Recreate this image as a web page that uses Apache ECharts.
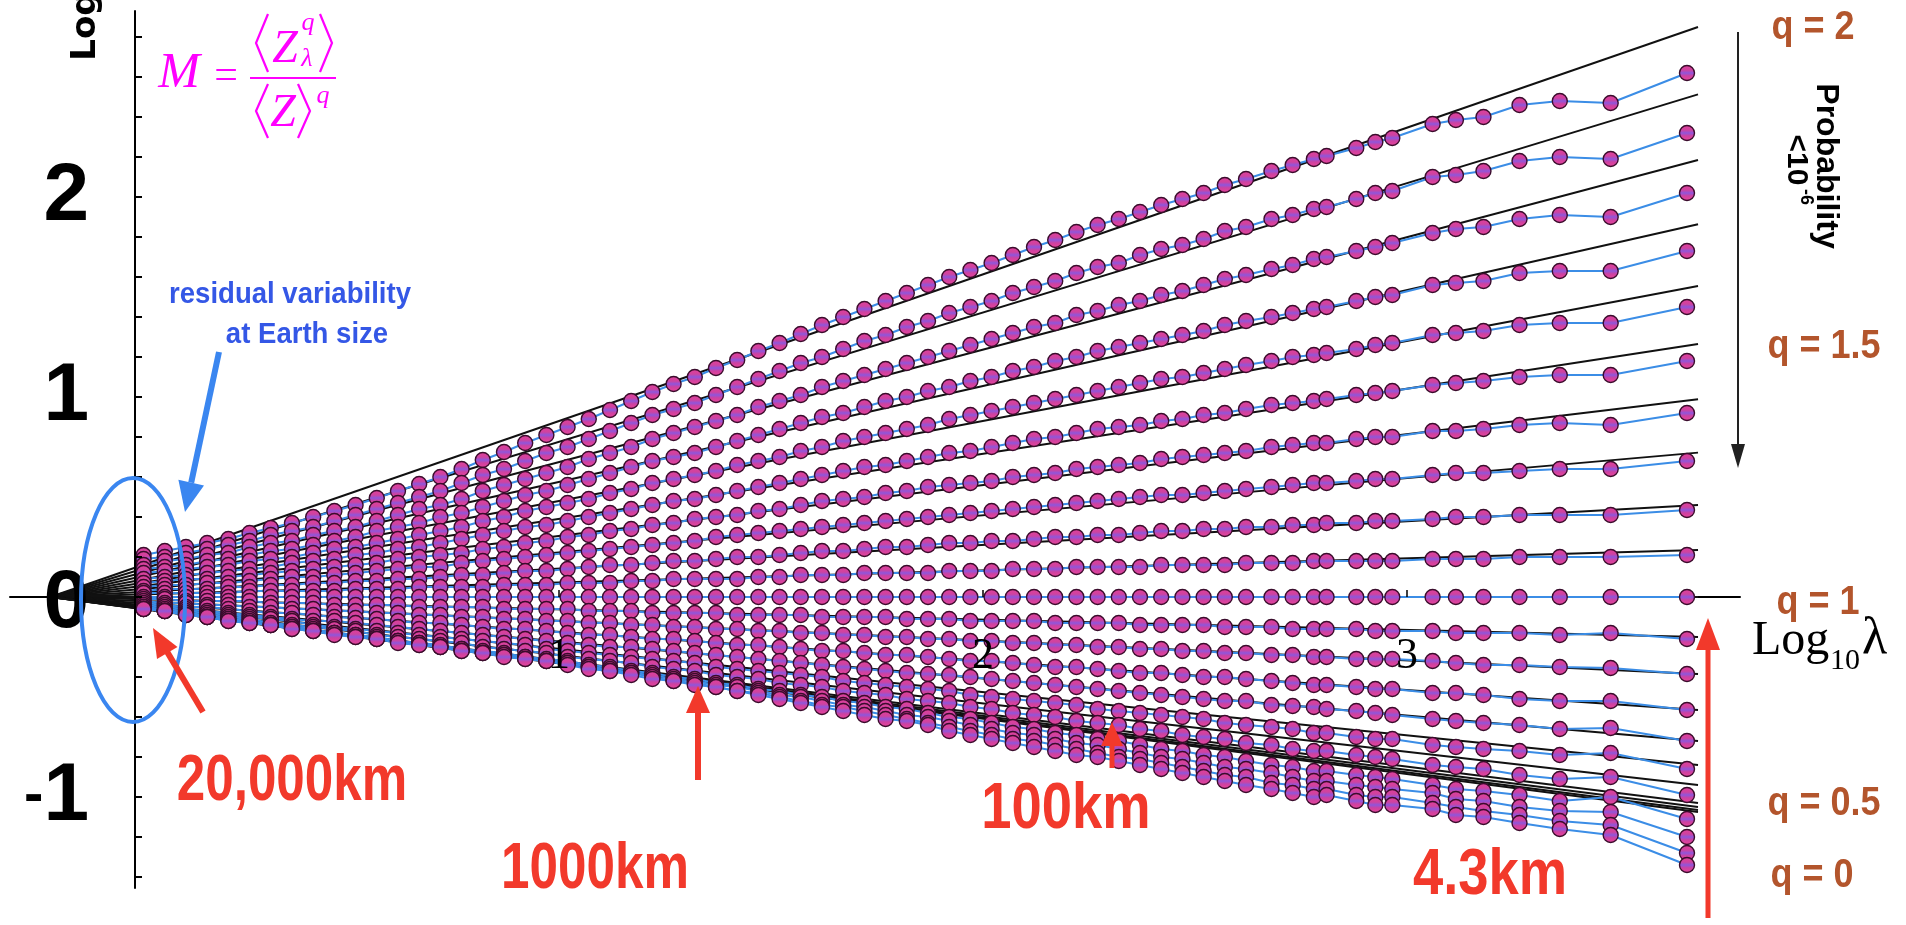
<!DOCTYPE html>
<html>
<head>
<meta charset="utf-8">
<script src="https://cdn.jsdelivr.net/npm/echarts@6/dist/echarts.min.js"></script>
<style>
html,body{margin:0;padding:0;background:#fff;}
#main{width:1906px;height:925px;}
</style>
</head>
<body>
<div id="main"></div>
<script>
// log10(lambda) positions of the points
const xs = [0.02,0.07,0.12,0.17,0.22,0.27,0.32,0.37,0.42,0.47,0.52,0.57,0.62,0.67,0.72,0.77,0.82,0.87,0.92,0.97,1.02,1.07,1.12,1.17,1.22,1.27,1.32,1.37,1.42,1.47,1.52,1.57,1.62,1.67,1.72,1.77,1.82,1.87,1.92,1.97,2.02,2.07,2.12,2.17,2.22,2.27,2.32,2.37,2.42,2.47,2.52,2.57,2.62,2.68,2.73,2.78,2.81,2.88,2.925,2.965,3.06,3.115,3.18,3.265,3.36,3.48,3.66];

// log10 M for each q
const m20 = [0.21,0.23,0.25,0.27,0.29,0.32,0.345,0.37,0.40,0.43,0.46,0.495,0.53,0.565,0.60,0.64,0.685,0.725,0.77,0.81,0.85,0.89,0.935,0.98,1.025,1.065,1.10,1.145,1.185,1.23,1.27,1.315,1.36,1.40,1.44,1.48,1.52,1.56,1.60,1.635,1.67,1.71,1.75,1.785,1.825,1.86,1.89,1.925,1.96,1.99,2.02,2.06,2.09,2.13,2.16,2.19,2.205,2.245,2.275,2.295,2.365,2.385,2.40,2.46,2.48,2.47,2.62];
const m19 = [0.19,0.20,0.22,0.24,0.26,0.28,0.31,0.33,0.35,0.38,0.41,0.44,0.47,0.50,0.53,0.57,0.61,0.64,0.68,0.72,0.75,0.79,0.83,0.87,0.91,0.94,0.97,1.01,1.05,1.09,1.13,1.17,1.20,1.24,1.28,1.31,1.35,1.38,1.42,1.45,1.48,1.52,1.55,1.58,1.62,1.65,1.67,1.71,1.74,1.76,1.79,1.83,1.85,1.89,1.91,1.94,1.95,1.99,2.02,2.03,2.10,2.11,2.13,2.18,2.20,2.19,2.32];
const m18 = [0.16,0.18,0.19,0.21,0.22,0.25,0.27,0.28,0.31,0.33,0.35,0.38,0.41,0.44,0.46,0.49,0.53,0.56,0.59,0.62,0.65,0.69,0.72,0.75,0.79,0.82,0.85,0.88,0.91,0.95,0.98,1.01,1.05,1.08,1.11,1.14,1.17,1.20,1.23,1.26,1.29,1.32,1.35,1.37,1.41,1.43,1.46,1.48,1.51,1.53,1.56,1.59,1.61,1.64,1.66,1.69,1.70,1.73,1.75,1.77,1.82,1.84,1.85,1.89,1.91,1.90,2.02];
const m17 = [0.14,0.15,0.16,0.18,0.19,0.21,0.23,0.24,0.26,0.28,0.30,0.33,0.35,0.37,0.40,0.42,0.45,0.48,0.51,0.53,0.56,0.59,0.62,0.65,0.68,0.70,0.72,0.75,0.78,0.81,0.84,0.87,0.90,0.92,0.95,0.98,1.00,1.03,1.05,1.08,1.10,1.13,1.15,1.18,1.20,1.23,1.25,1.27,1.29,1.31,1.33,1.36,1.38,1.40,1.42,1.44,1.45,1.48,1.50,1.51,1.56,1.57,1.58,1.62,1.63,1.63,1.73];
const m16 = [0.12,0.13,0.14,0.15,0.16,0.18,0.19,0.20,0.22,0.24,0.25,0.27,0.29,0.31,0.33,0.35,0.38,0.40,0.43,0.45,0.47,0.49,0.52,0.54,0.57,0.59,0.61,0.63,0.66,0.68,0.70,0.73,0.75,0.78,0.80,0.82,0.84,0.86,0.89,0.91,0.93,0.95,0.97,0.99,1.01,1.03,1.05,1.07,1.09,1.10,1.12,1.14,1.16,1.18,1.20,1.21,1.22,1.24,1.26,1.27,1.31,1.32,1.33,1.36,1.37,1.37,1.45];
const m15 = [0.09,0.10,0.11,0.12,0.13,0.14,0.15,0.17,0.18,0.19,0.21,0.22,0.24,0.25,0.27,0.29,0.31,0.33,0.35,0.36,0.38,0.40,0.42,0.44,0.46,0.48,0.49,0.51,0.53,0.55,0.57,0.59,0.61,0.63,0.65,0.66,0.68,0.70,0.72,0.73,0.75,0.77,0.79,0.80,0.82,0.84,0.85,0.86,0.88,0.89,0.91,0.92,0.94,0.96,0.97,0.98,0.99,1.01,1.02,1.03,1.06,1.07,1.08,1.10,1.11,1.11,1.18];
const m14 = [0.07,0.08,0.09,0.09,0.10,0.11,0.12,0.13,0.14,0.15,0.16,0.17,0.19,0.20,0.21,0.22,0.24,0.25,0.27,0.28,0.30,0.31,0.33,0.34,0.36,0.37,0.39,0.40,0.41,0.43,0.44,0.46,0.48,0.49,0.50,0.52,0.53,0.55,0.56,0.57,0.58,0.60,0.61,0.62,0.64,0.65,0.66,0.67,0.69,0.70,0.71,0.72,0.73,0.75,0.76,0.77,0.77,0.79,0.80,0.80,0.83,0.83,0.84,0.86,0.87,0.86,0.92];
const m13 = [0.05,0.06,0.06,0.07,0.07,0.08,0.09,0.10,0.10,0.11,0.12,0.13,0.14,0.15,0.15,0.17,0.18,0.19,0.20,0.21,0.22,0.23,0.24,0.25,0.26,0.27,0.28,0.30,0.31,0.32,0.33,0.34,0.35,0.36,0.37,0.38,0.39,0.40,0.41,0.42,0.43,0.44,0.45,0.46,0.47,0.48,0.49,0.50,0.51,0.51,0.52,0.53,0.54,0.55,0.56,0.57,0.57,0.58,0.59,0.59,0.61,0.62,0.62,0.63,0.64,0.64,0.68];
const m12 = [0.03,0.04,0.04,0.04,0.05,0.05,0.06,0.06,0.07,0.07,0.08,0.08,0.09,0.09,0.10,0.11,0.11,0.12,0.13,0.13,0.14,0.15,0.16,0.16,0.17,0.18,0.18,0.19,0.20,0.20,0.21,0.22,0.23,0.23,0.24,0.25,0.25,0.26,0.27,0.27,0.28,0.28,0.29,0.30,0.30,0.31,0.31,0.32,0.33,0.33,0.34,0.34,0.35,0.35,0.36,0.36,0.37,0.37,0.38,0.38,0.39,0.40,0.40,0.41,0.41,0.41,0.435];
const m11 = [0.02,0.02,0.02,0.02,0.02,0.03,0.03,0.03,0.03,0.03,0.04,0.04,0.04,0.05,0.05,0.05,0.05,0.06,0.06,0.06,0.07,0.07,0.07,0.08,0.08,0.09,0.09,0.09,0.09,0.10,0.10,0.11,0.11,0.11,0.12,0.12,0.12,0.12,0.13,0.13,0.13,0.14,0.14,0.14,0.15,0.15,0.15,0.15,0.16,0.16,0.16,0.16,0.17,0.17,0.17,0.18,0.18,0.18,0.18,0.18,0.19,0.19,0.19,0.20,0.20,0.20,0.21];
const m10 = [0,0,0,0,0,0,0,0,0,0,0,0,0,0,0,0,0,0,0,0,0,0,0,0,0,0,0,0,0,0,0,0,0,0,0,0,0,0,0,0,0,0,0,0,0,0,0,0,0,0,0,0,0,0,0,0,0,0,0,0,0,0,0,0,0,0,0];
const m09 = [-0.01,-0.01,-0.02,-0.02,-0.02,-0.02,-0.03,-0.03,-0.03,-0.04,-0.04,-0.04,-0.04,-0.05,-0.05,-0.05,-0.05,-0.06,-0.06,-0.06,-0.06,-0.07,-0.07,-0.07,-0.08,-0.08,-0.08,-0.08,-0.09,-0.09,-0.09,-0.09,-0.10,-0.10,-0.10,-0.10,-0.11,-0.11,-0.11,-0.12,-0.12,-0.12,-0.12,-0.13,-0.13,-0.13,-0.13,-0.14,-0.14,-0.14,-0.14,-0.15,-0.15,-0.15,-0.16,-0.16,-0.16,-0.16,-0.17,-0.17,-0.17,-0.18,-0.18,-0.18,-0.19,-0.18,-0.21];
const m08 = [-0.02,-0.03,-0.03,-0.04,-0.04,-0.05,-0.05,-0.06,-0.06,-0.07,-0.07,-0.08,-0.08,-0.09,-0.09,-0.10,-0.10,-0.11,-0.11,-0.12,-0.12,-0.13,-0.13,-0.14,-0.14,-0.15,-0.15,-0.16,-0.16,-0.17,-0.17,-0.18,-0.18,-0.19,-0.19,-0.20,-0.20,-0.21,-0.21,-0.22,-0.22,-0.23,-0.23,-0.24,-0.24,-0.25,-0.25,-0.26,-0.26,-0.27,-0.27,-0.28,-0.28,-0.29,-0.29,-0.30,-0.30,-0.31,-0.31,-0.31,-0.32,-0.33,-0.34,-0.34,-0.35,-0.355,-0.385];
const m07 = [-0.03,-0.04,-0.05,-0.05,-0.06,-0.07,-0.08,-0.08,-0.09,-0.10,-0.105,-0.11,-0.12,-0.13,-0.13,-0.14,-0.15,-0.16,-0.16,-0.17,-0.18,-0.19,-0.19,-0.20,-0.21,-0.21,-0.22,-0.23,-0.24,-0.24,-0.25,-0.26,-0.27,-0.27,-0.28,-0.29,-0.29,-0.30,-0.31,-0.32,-0.32,-0.33,-0.34,-0.35,-0.35,-0.36,-0.37,-0.38,-0.38,-0.39,-0.40,-0.40,-0.41,-0.42,-0.43,-0.44,-0.44,-0.45,-0.46,-0.46,-0.48,-0.48,-0.49,-0.51,-0.52,-0.52,-0.565];
const m06 = [-0.04,-0.05,-0.06,-0.07,-0.08,-0.09,-0.10,-0.11,-0.12,-0.12,-0.13,-0.14,-0.15,-0.16,-0.17,-0.18,-0.19,-0.20,-0.21,-0.22,-0.23,-0.24,-0.25,-0.25,-0.26,-0.27,-0.28,-0.29,-0.30,-0.31,-0.32,-0.33,-0.34,-0.35,-0.36,-0.37,-0.38,-0.385,-0.39,-0.40,-0.41,-0.42,-0.43,-0.44,-0.45,-0.46,-0.47,-0.48,-0.49,-0.50,-0.51,-0.52,-0.52,-0.54,-0.545,-0.55,-0.56,-0.57,-0.58,-0.59,-0.61,-0.62,-0.63,-0.64,-0.66,-0.655,-0.72];
const m05 = [-0.05,-0.06,-0.07,-0.08,-0.09,-0.10,-0.11,-0.12,-0.14,-0.15,-0.16,-0.17,-0.18,-0.19,-0.20,-0.21,-0.22,-0.23,-0.24,-0.26,-0.27,-0.28,-0.29,-0.30,-0.31,-0.32,-0.33,-0.35,-0.36,-0.37,-0.38,-0.39,-0.40,-0.42,-0.43,-0.44,-0.45,-0.46,-0.47,-0.49,-0.50,-0.51,-0.52,-0.53,-0.54,-0.56,-0.57,-0.58,-0.59,-0.60,-0.61,-0.63,-0.64,-0.65,-0.66,-0.68,-0.68,-0.70,-0.71,-0.71,-0.74,-0.75,-0.76,-0.77,-0.79,-0.78,-0.86];
const m04 = [-0.05,-0.07,-0.08,-0.09,-0.10,-0.11,-0.13,-0.14,-0.15,-0.16,-0.17,-0.19,-0.20,-0.21,-0.22,-0.23,-0.25,-0.26,-0.27,-0.28,-0.30,-0.31,-0.32,-0.33,-0.35,-0.36,-0.37,-0.39,-0.40,-0.41,-0.43,-0.44,-0.45,-0.47,-0.48,-0.49,-0.51,-0.52,-0.53,-0.55,-0.56,-0.58,-0.59,-0.60,-0.62,-0.63,-0.64,-0.66,-0.67,-0.69,-0.70,-0.71,-0.73,-0.74,-0.76,-0.77,-0.77,-0.79,-0.80,-0.81,-0.84,-0.85,-0.86,-0.89,-0.91,-0.90,-0.99];
const m03 = [-0.06,-0.07,-0.08,-0.10,-0.11,-0.12,-0.14,-0.15,-0.16,-0.18,-0.19,-0.20,-0.22,-0.23,-0.24,-0.26,-0.27,-0.28,-0.30,-0.31,-0.32,-0.34,-0.35,-0.37,-0.38,-0.40,-0.41,-0.43,-0.44,-0.46,-0.47,-0.49,-0.50,-0.52,-0.53,-0.55,-0.56,-0.58,-0.60,-0.61,-0.63,-0.65,-0.66,-0.68,-0.69,-0.71,-0.72,-0.74,-0.76,-0.77,-0.79,-0.80,-0.82,-0.84,-0.85,-0.87,-0.87,-0.89,-0.90,-0.91,-0.94,-0.96,-0.97,-0.99,-1.02,-1.00,-1.11];
const m02 = [-0.06,-0.07,-0.09,-0.10,-0.11,-0.13,-0.14,-0.15,-0.17,-0.18,-0.19,-0.21,-0.22,-0.23,-0.25,-0.26,-0.28,-0.29,-0.30,-0.32,-0.33,-0.35,-0.36,-0.38,-0.39,-0.41,-0.42,-0.44,-0.45,-0.47,-0.49,-0.50,-0.52,-0.54,-0.55,-0.57,-0.59,-0.60,-0.62,-0.64,-0.66,-0.68,-0.69,-0.71,-0.73,-0.74,-0.76,-0.78,-0.80,-0.81,-0.83,-0.85,-0.86,-0.88,-0.90,-0.92,-0.92,-0.94,-0.95,-0.96,-0.98,-1.01,-1.02,-1.05,-1.07,-1.075,-1.20];
const m01 = [-0.06,-0.07,-0.09,-0.10,-0.12,-0.13,-0.14,-0.16,-0.17,-0.18,-0.20,-0.21,-0.22,-0.24,-0.25,-0.27,-0.28,-0.29,-0.31,-0.32,-0.33,-0.35,-0.37,-0.38,-0.40,-0.42,-0.43,-0.45,-0.47,-0.48,-0.50,-0.52,-0.54,-0.55,-0.57,-0.59,-0.61,-0.63,-0.65,-0.67,-0.69,-0.71,-0.72,-0.74,-0.76,-0.78,-0.80,-0.81,-0.83,-0.85,-0.87,-0.89,-0.90,-0.93,-0.94,-0.96,-0.96,-0.99,-1.00,-1.00,-1.03,-1.05,-1.07,-1.09,-1.12,-1.14,-1.28];
const m00 = [-0.06,-0.07,-0.09,-0.10,-0.12,-0.13,-0.14,-0.16,-0.17,-0.19,-0.20,-0.21,-0.23,-0.24,-0.25,-0.27,-0.28,-0.30,-0.31,-0.32,-0.34,-0.36,-0.37,-0.39,-0.41,-0.42,-0.44,-0.45,-0.47,-0.49,-0.51,-0.53,-0.55,-0.57,-0.59,-0.61,-0.62,-0.64,-0.67,-0.69,-0.71,-0.73,-0.75,-0.77,-0.79,-0.80,-0.82,-0.84,-0.86,-0.88,-0.90,-0.92,-0.94,-0.96,-0.98,-1.00,-0.99,-1.02,-1.04,-1.04,-1.06,-1.09,-1.10,-1.13,-1.16,-1.19,-1.34];

// fitted straight lines: common start point, end values per q (q = 2 ... 0)
const fitStartX = -0.2, fitStartY = 0, fitEndX = 3.686;
const fitEnd = [2.85,2.513,2.185,1.864,1.555,1.265,0.989,0.722,0.46,0.235,0,-0.2,-0.385,-0.565,-0.72,-0.84,-0.94,-1.03,-1.05,-1.065,-1.075];

const yTickLabels = [-1, 0, 1, 2];
const yMinorTicks = [-1.4,-1.2,-1,-0.8,-0.6,-0.4,-0.2,0,0.2,0.4,0.6,0.8,1,1.2,1.4,1.6,1.8,2,2.2,2.4,2.6,2.8];

const curves = [m20,m19,m18,m17,m16,m15,m14,m13,m12,m11,m10,m09,m08,m07,m06,m05,m04,m03,m02,m01,m00];

const chart = echarts.init(document.getElementById('main'), null, {renderer: 'canvas'});

const series = [];
curves.forEach((vals, k) => {
  series.push({
    type: 'line', xAxisIndex: 0, yAxisIndex: 0, silent: true, z: 2,
    data: [[fitStartX, fitStartY], [fitEndX, fitEnd[k]]],
    symbol: 'none', showSymbol: false, clip: false,
    lineStyle: {color: '#111', width: 1.9}
  });
});
const dotFill = {type: 'linear', x: 0, y: 0, x2: 0, y2: 1, colorStops: [
  {offset: 0, color: '#e0409a'}, {offset: 0.32, color: '#d0429f'}, {offset: 0.5, color: '#8e56dc'},
  {offset: 0.68, color: '#cf41a0'}, {offset: 1, color: '#e8449a'}]};
curves.forEach((vals) => {
  const pts = xs.map((x, i) => [x, vals[i]]);
  series.push({
    type: 'scatter', xAxisIndex: 0, yAxisIndex: 0, silent: true, z: 3,
    data: pts, symbol: 'circle', symbolSize: 15,
    itemStyle: {color: dotFill, borderColor: '#3a0c2c', borderWidth: 1.4, opacity: 1}
  });
  series.push({
    type: 'line', xAxisIndex: 0, yAxisIndex: 0, silent: true, z: 3,
    data: pts, symbol: 'none', showSymbol: false,
    lineStyle: {color: '#3b8de6', width: 2}
  });
});

const MAG = '#ff00ff', RED = '#f2392b', BLUE = '#3a86f0', BROWN = '#b3552c';
function txt(x, y, text, font, fill, opts) {
  return Object.assign({type: 'text', x: x, y: y, z: 100,
    style: {text: text, font: font, fill: fill, align: 'center', verticalAlign: 'middle'}}, opts || {});
}
function seg(x1, y1, x2, y2, stroke, w) {
  return {type: 'line', z: 100, shape: {x1: x1, y1: y1, x2: x2, y2: y2}, style: {stroke: stroke, lineWidth: w}};
}
function poly(points, fill) {
  return {type: 'polygon', z: 100, shape: {points: points}, style: {fill: fill}};
}
function pline(points, stroke, w) {
  return {type: 'polyline', z: 100, shape: {points: points}, style: {stroke: stroke, lineWidth: w, fill: null}};
}
const redFont = 'bold 64px "Liberation Sans"';
const narrow = {scaleX: 0.8};

const graphics = [
  // y-axis title (cut at top)
  txt(86, 26, 'Log', 'bold 34px "DejaVu Sans"', '#000', {rotation: Math.PI / 2}),
  // formula
  txt(179, 74, 'M', 'italic 50px "Liberation Serif"', MAG),
  txt(226, 77, '=', '42px "Liberation Serif"', MAG),
  seg(250, 78, 336, 78, MAG, 2.2),
  pline([[268, 14], [256, 43], [268, 72]], MAG, 2.2),
  pline([[320, 14], [332, 43], [320, 72]], MAG, 2.2),
  txt(285, 50, 'Z', 'italic 46px "Liberation Serif"', MAG),
  txt(308, 23, 'q', 'italic 26px "Liberation Serif"', MAG),
  txt(307, 59, 'λ', 'italic 26px "Liberation Serif"', MAG),
  pline([[268, 84], [256, 111], [268, 138]], MAG, 2.2),
  pline([[298, 84], [310, 111], [298, 138]], MAG, 2.2),
  txt(283, 114, 'Z', 'italic 46px "Liberation Serif"', MAG),
  txt(323, 96, 'q', 'italic 26px "Liberation Serif"', MAG),
  // residual variability note
  txt(290, 295, 'residual variability', 'bold 29px "Liberation Sans"', '#3457e6', {scaleX: 0.95}),
  txt(307, 335, 'at Earth size', 'bold 29px "Liberation Sans"', '#3457e6', {scaleX: 0.95}),
  seg(219, 352, 191.2, 482.7, BLUE, 6),
  poly([[185, 512], [204, 485.6], [178.4, 479.8]], BLUE),
  {type: 'ellipse', z: 100, shape: {cx: 133, cy: 600, rx: 52, ry: 122}, style: {fill: null, stroke: BLUE, lineWidth: 4}},
  // red scale arrows
  seg(203, 712, 167.3, 652.1, RED, 6),
  poly([[153, 628], [177.5, 647], [157, 659]], RED),
  txt(292, 782, '20,000km', redFont, RED, narrow),
  seg(698, 780, 698, 708, RED, 6),
  poly([[698, 686], [686, 713], [710, 713]], RED),
  txt(595, 870, '1000km', redFont, RED, narrow),
  seg(1112, 768, 1112, 742, RED, 5),
  poly([[1112, 722], [1101, 746], [1123, 746]], RED),
  txt(1066, 810, '100km', redFont, RED, {scaleX: 0.85}),
  seg(1708, 918, 1708, 645, RED, 5),
  poly([[1708, 618], [1696, 650], [1720, 650]], RED),
  txt(1490, 876, '4.3km', redFont, RED, {scaleX: 0.85}),
  // q labels
  txt(1813, 28, 'q = 2', 'bold 40px "Liberation Sans"', BROWN, {scaleX: 0.9}),
  txt(1824, 347, 'q = 1.5', 'bold 40px "Liberation Sans"', BROWN, {scaleX: 0.9}),
  txt(1818, 603, 'q = 1', 'bold 40px "Liberation Sans"', BROWN, {scaleX: 0.9}),
  txt(1824, 804, 'q = 0.5', 'bold 40px "Liberation Sans"', BROWN, {scaleX: 0.9}),
  txt(1812, 876, 'q = 0', 'bold 40px "Liberation Sans"', BROWN, {scaleX: 0.9}),
  // probability arrow
  seg(1738, 32, 1738, 448, '#222', 2),
  poly([[1738, 468], [1731, 444], [1745, 444]], '#222'),
  txt(1826, 166, 'Probability', 'bold 32px "Liberation Sans"', '#000', {rotation: -Math.PI / 2}),
  txt(1796, 160, '<10', 'bold 30px "Liberation Sans"', '#000', {rotation: -Math.PI / 2}),
  txt(1806, 197, '-6', 'bold 18px "Liberation Sans"', '#000', {rotation: -Math.PI / 2}),
  // x-axis title
  {type: 'text', x: 1752, y: 641, z: 100, style: {text: 'Log', font: '48px "Liberation Serif"', fill: '#000', align: 'left', verticalAlign: 'middle'}},
  {type: 'text', x: 1830, y: 661, z: 100, style: {text: '10', font: '30px "Liberation Serif"', fill: '#000', align: 'left', verticalAlign: 'middle'}},
  {type: 'text', x: 1862, y: 639, z: 100, style: {text: 'λ', font: '52px "Liberation Serif"', fill: '#000', align: 'left', verticalAlign: 'middle'}}
];

const option = {
  animation: false,
  backgroundColor: '#fff',
  grid: [
    {left: 10, top: 11, width: 1730, height: 877, containLabel: false, outerBoundsMode: 'none'},
    {left: 135, top: 11, width: 20, height: 877, containLabel: false, outerBoundsMode: 'none'},
    // same horizontal scale as grid 0, from log10(lambda) = 1; its bottom edge is the zero line
    {left: 559, top: 11, width: 1181, height: 586, containLabel: false, outerBoundsMode: 'none'}
  ],
  xAxis: [
    {type: 'value', gridIndex: 0, min: -0.295, max: 3.785,
     axisLine: {show: true, onZero: true, lineStyle: {color: '#000', width: 2}},
     axisTick: {show: false}, axisLabel: {show: false}, splitLine: {show: false}},
    {type: 'value', gridIndex: 1, min: 0, max: 1, show: false},
    {type: 'value', gridIndex: 2, min: 1, max: 3.785, interval: 1, position: 'bottom', z: 10,
     axisLine: {show: false, onZero: false},
     axisTick: {show: true, inside: true, length: 7, lineStyle: {color: '#000', width: 1.5}},
     axisLabel: {show: true, margin: 37, fontFamily: 'Liberation Serif', fontSize: 44, color: '#000',
       showMinLabel: true, showMaxLabel: false},
     splitLine: {show: false}}
  ],
  yAxis: [
    {type: 'value', gridIndex: 0, min: -1.455, max: 2.93, show: false, splitLine: {show: false}},
    {type: 'value', gridIndex: 1, min: -1.455, max: 2.93, z: 10,
     axisLine: {show: true, onZero: false, lineStyle: {color: '#000', width: 2}},
     axisTick: {show: true, inside: true, length: 7, customValues: yMinorTicks, lineStyle: {color: '#000', width: 2}},
     axisLabel: {show: true, customValues: yTickLabels, margin: 46, fontFamily: 'Liberation Sans', fontWeight: 'bold', fontSize: 82, color: '#000',
       formatter: function (v) {
         if (v < 0) return '{n|-}' + Math.abs(v);
         if (v === 0) return '{z|0}';
         return String(v);
       },
       rich: {
         n: {fontFamily: 'Liberation Sans', fontWeight: 'bold', fontSize: 58, color: '#000'},
         z: {fontFamily: 'Liberation Sans', fontWeight: 'bold', fontSize: 82, color: '#000', padding: [14, 0, 0, 0]}
       }},
     splitLine: {show: false}},
    {type: 'value', gridIndex: 2, min: 0, max: 2.93, show: false, splitLine: {show: false}}
  ],
  series: series,
  graphic: graphics
};
chart.setOption(option);
</script>
</body>
</html>
